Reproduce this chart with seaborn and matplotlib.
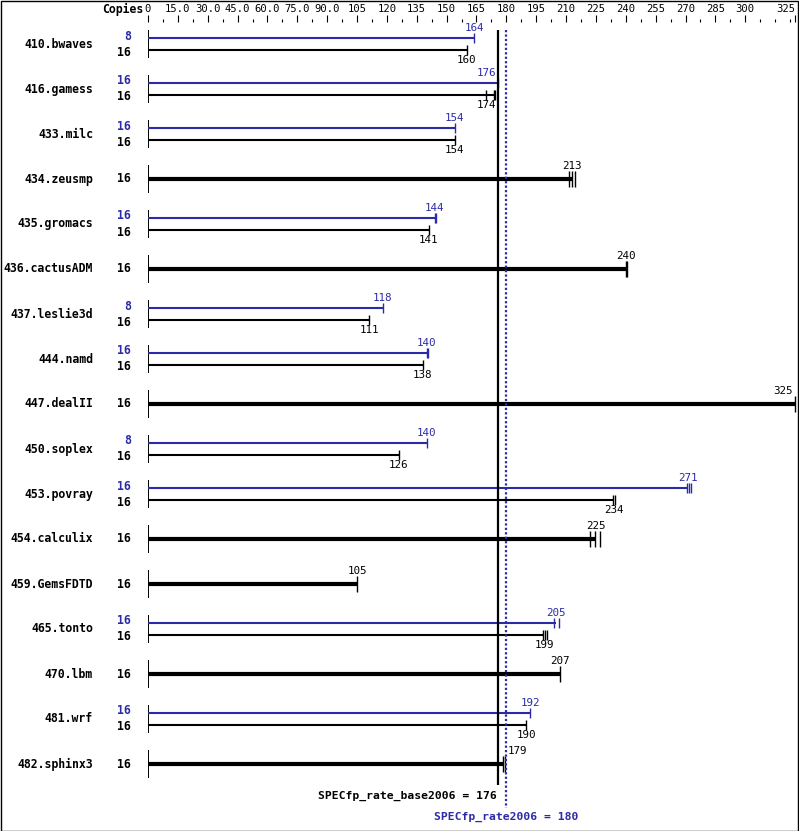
import numpy as np
import pandas as pd
import matplotlib
matplotlib.use("Agg")
import matplotlib.pyplot as plt
from matplotlib.patches import Rectangle
import seaborn as sns

# --- data ---
benchmarks = ["410.bwaves", "416.gamess", "433.milc", "434.zeusmp", "435.gromacs",
              "436.cactusADM", "437.leslie3d", "444.namd", "447.dealII", "450.soplex",
              "453.povray", "454.calculix", "459.GemsFDTD", "465.tonto", "470.lbm",
              "481.wrf", "482.sphinx3"]
base_copies = [16, 16, 16, 16, 16, 16, 16, 16, 16, 16, 16, 16, 16, 16, 16, 16, 16]
base_ratio = [160, 174, 154, 213, 141, 240, 111, 138, 325, 126, 234, 225, 105, 199, 207, 190, 179]
# None -> peak equals base (single thick bar)
peak_copies = [8, 16, 16, None, 16, None, 8, 16, None, 8, 16, None, None, 16, None, 16, None]
peak_ratio = [164, 176, 154, None, 144, None, 118, 140, None, 140, 271, None, None, 205, None, 192, None]
base_runs = [[160], [170, 174, 174.5], [154], [211.7, 213.2, 214.7], [141], [240, 240.6],
             [111], [138], [325], [126], [233.5, 234.5], [221.8, 224.5, 226.8], [105],
             [198.3, 199.3, 200.3], [207], [190], [178.5, 179.5]]
peak_runs = [[164], [176], [154], None, [144, 144.5], None, [118], [140, 140.6], None,
             [140], [270.7, 271.7, 272.7], None, None, [204, 206.5], None, [192], None]
tick_vals = [0, 15, 30, 45, 60, 75, 90, 105, 120, 135, 150, 165, 180, 195, 210, 225,
             240, 255, 270, 285, 300, 325]
tick_labels = ["0", "15.0", "30.0", "45.0", "60.0", "75.0", "90.0", "105", "120", "135",
               "150", "165", "180", "195", "210", "225", "240", "255", "270", "285", "300", "325"]
spec_base = 176
spec_peak = 180

BLUE = "#2b2ba8"
W, H = 799, 831
mono = "DejaVu Sans Mono"

sns.set_style("white")
plt.rcParams["font.family"] = [mono]
plt.rcParams["text.color"] = "black"
plt.rcParams["xtick.color"] = "black"
plt.rcParams["xtick.labelcolor"] = "black"

fig = plt.figure(figsize=(W / 100, H / 100), dpi=100)
x0, x1, ytop = 148, 795, 22
ax = fig.add_axes([x0 / W, 0, (x1 - x0) / W, (H - ytop) / H])
ax.set_xlim(0, 325)
ax.set_ylim(H, ytop)  # y in pixel rows
ax.patch.set_alpha(0)
for s in ax.spines.values():
    s.set_visible(False)

ax.xaxis.tick_top()
ax.set_xticks(tick_vals)
ax.set_xticklabels(tick_labels, fontsize=7.6)
ax.get_xticklabels()[-1].set_horizontalalignment("right")
ax.set_xticks(np.arange(7.5, 325, 7.5), minor=True)
ax.tick_params(axis="x", which="major", length=5, width=0.8, pad=1)
ax.tick_params(axis="x", which="minor", length=2.5, width=0.8)
ax.set_yticks([])

def fy(py):
    return 1 - py / H

def fx(px):
    return px / W

def value_label(v, y, va, color):
    # keep the number clear of the base result line, as the SPEC chart does
    if abs(v - spec_base) < 5:
        if v <= spec_base:
            ax.text(spec_base - 1, y, str(v), ha="right", va=va, fontsize=7.8, color=color)
        else:
            ax.text(v + 1.5, y, str(v), ha="left", va=va, fontsize=7.8, color=color)
    elif v > 300:
        ax.text(v - 1, y, str(v), ha="right", va=va, fontsize=7.8, color=color)
    else:
        ax.text(v, y, str(v), ha="center", va=va, fontsize=7.8, color=color)

fig.text(fx(143), fy(9), "Copies", ha="right", va="center", fontsize=8.3, fontweight="bold")

thin_pts, thick_pts = [], []
for i, name in enumerate(benchmarks):
    c = 44 + 45 * i
    fig.text(fx(93), fy(c), name, ha="right", va="center", fontsize=8.3, fontweight="bold")
    ax.vlines(0, c - 14, c + 14, color="black", lw=1.4)
    if peak_ratio[i] is None:
        ax.hlines(c, 0, base_ratio[i], color="black", lw=3.0)
        fig.text(fx(131), fy(c), str(base_copies[i]), ha="right", va="center",
                 fontsize=8.3, fontweight="bold")
        value_label(base_ratio[i], c - 8, "bottom", "black")
        for v in base_runs[i]:
            thick_pts.append({"value": v, "y": c, "kind": "base"})
    else:
        yp, yb = c - 6, c + 6
        ax.hlines(yp, 0, peak_ratio[i], color=BLUE, lw=1.5)
        ax.hlines(yb, 0, base_ratio[i], color="black", lw=1.5)
        fig.text(fx(131), fy(yp - 2), str(peak_copies[i]), ha="right", va="center",
                 fontsize=8.3, fontweight="bold", color=BLUE)
        fig.text(fx(131), fy(yb + 2), str(base_copies[i]), ha="right", va="center",
                 fontsize=8.3, fontweight="bold")
        value_label(peak_ratio[i], yp - 5, "bottom", BLUE)
        value_label(base_ratio[i], yb + 5, "top", "black")
        for v in peak_runs[i]:
            thin_pts.append({"value": v, "y": yp, "kind": "peak"})
        for v in base_runs[i]:
            thin_pts.append({"value": v, "y": yb, "kind": "base"})

pal = {"base": "black", "peak": BLUE}
sns.scatterplot(data=pd.DataFrame(thin_pts), x="value", y="y", hue="kind", palette=pal,
                marker="|", s=55, linewidth=1.0, legend=False, ax=ax, clip_on=False)
sns.scatterplot(data=pd.DataFrame(thick_pts), x="value", y="y", hue="kind", palette=pal,
                marker="|", s=130, linewidth=1.0, legend=False, ax=ax, clip_on=False)
ax.set_xlabel("")
ax.set_ylabel("")
ax.set_xlim(0, 325)
ax.set_ylim(H, ytop)

# overall result lines
ax.vlines(spec_base, 30, 785, color="black", lw=1.6)
ax.vlines(spec_peak, 30, 808, color=BLUE, lw=1.6, linestyles=(0, (1, 1)))
ax.text(spec_base - 1, 796, f"SPECfp_rate_base2006 = {spec_base}", ha="right",
        va="center", fontsize=8.2, fontweight="bold")
ax.text(spec_peak, 817, f"SPECfp_rate2006 = {spec_peak}", ha="center",
        va="center", fontsize=8.2, fontweight="bold", color=BLUE)

fig.patches.append(Rectangle((0.5 / W, 0.5 / H), 1 - 1.5 / W, 1 - 1.5 / H,
                             transform=fig.transFigure, fill=False, lw=1, ec="black"))

fig.savefig("out.png", dpi=100)
